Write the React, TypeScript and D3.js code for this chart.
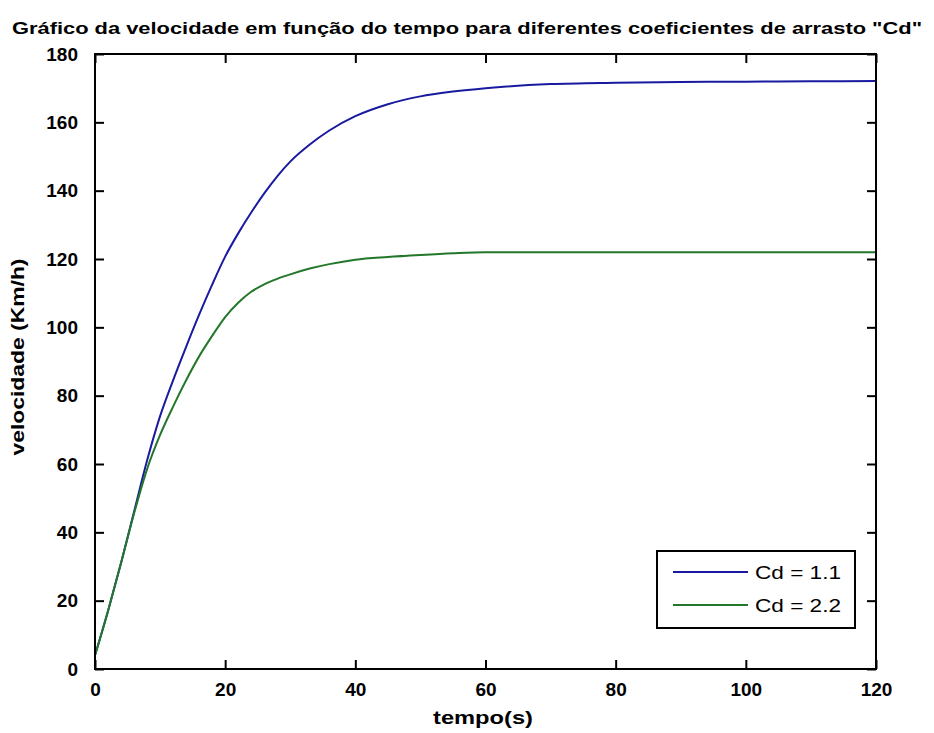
import React, { useEffect, useRef } from "react"
import * as d3 from "d3"

// tempo (s)
const tempo = [0, 2, 4, 6, 8, 10, 12, 14, 16, 18, 20, 22, 24, 26, 28, 30, 33, 36, 40, 45, 50, 55, 60, 70, 80, 90, 100, 110, 120]

// velocidade (km/h)
const velCd11 = [4, 17, 31, 46, 61, 74, 84.5, 94.3, 103.7, 112.5, 120.7, 127.5, 133.6, 139.2, 144.2, 148.5, 153.5, 157.6, 161.8, 165.3, 167.6, 169, 170, 171.2, 171.6, 171.8, 171.9, 172, 172.1]
const velCd22 = [4, 17, 31, 45.5, 58.5, 68.5, 76.8, 84.5, 91.5, 97.5, 103, 107.2, 110.4, 112.6, 114.2, 115.5, 117.2, 118.5, 119.8, 120.6, 121.2, 121.7, 122, 122, 122, 122, 122, 122, 122]

const seriesNames = ["Cd = 1.1", "Cd = 2.2"]
const seriesColors = ["#1a1aa0", "#23772a"]

const xTicks = [0, 20, 40, 60, 80, 100, 120]
const yTicks = [0, 20, 40, 60, 80, 100, 120, 140, 160, 180]

const titulo = "Gráfico da velocidade em função do tempo para diferentes coeficientes de arrasto \"Cd\""

export default function App() {
  const ref = useRef<SVGSVGElement>(null)

  useEffect(() => {
    const svg = d3.select(ref.current)
    svg.selectAll("*").remove()

    const margin = { top: 54, right: 58, bottom: 64, left: 95 }
    const W = 934, H = 733
    const width = W - margin.left - margin.right
    const height = H - margin.top - margin.bottom
    const font = "'Liberation Sans', Arial, sans-serif"

    svg.append("rect").attr("width", W).attr("height", H).attr("fill", "#fff")

    const x = d3.scaleLinear().domain([0, 120]).range([0, width])
    const y = d3.scaleLinear().domain([0, 180]).range([height, 0])

    const g = svg.append("g").attr("transform", `translate(${margin.left},${margin.top})`)

    // axes with inward ticks, on all four sides
    const tickLen = 9
    g.append("g").attr("transform", `translate(0,${height})`)
      .call(d3.axisBottom(x).tickValues(xTicks).tickSizeInner(-tickLen).tickSizeOuter(0).tickPadding(14))
    g.append("g")
      .call(d3.axisTop(x).tickValues(xTicks).tickSizeInner(-tickLen).tickSizeOuter(0).tickFormat(() => ""))
    g.append("g")
      .call(d3.axisLeft(y).tickValues(yTicks).tickSizeInner(-tickLen).tickSizeOuter(0).tickPadding(17))
    g.append("g").attr("transform", `translate(${width},0)`)
      .call(d3.axisRight(y).tickValues(yTicks).tickSizeInner(-tickLen).tickSizeOuter(0).tickFormat(() => ""))

    g.selectAll(".domain").remove()
    g.selectAll(".tick line").attr("stroke", "#000").attr("stroke-width", 2)
    g.selectAll(".tick text")
      .attr("fill", "#000")
      .style("font-family", font)
      .style("font-weight", "bold")
      .style("font-size", "19px")

    // lines
    const line = d3.line<number>()
      .x((d, i) => x(tempo[i]))
      .y(d => y(d))
      .curve(d3.curveMonotoneX)

    ;[velCd11, velCd22].forEach((vals, k) => {
      g.append("path")
        .datum(vals)
        .attr("d", line)
        .attr("fill", "none")
        .attr("stroke", seriesColors[k])
        .attr("stroke-width", 2)
    })

    // box
    g.append("rect")
      .attr("width", width).attr("height", height)
      .attr("fill", "none").attr("stroke", "#000").attr("stroke-width", 2)

    // legend
    const lg = svg.append("g").attr("transform", "translate(657,551)")
    lg.append("rect").attr("width", 198).attr("height", 77)
      .attr("fill", "#fff").attr("stroke", "#000").attr("stroke-width", 2)
    seriesNames.forEach((name, k) => {
      const yy = 21 + k * 33
      lg.append("line").attr("x1", 16).attr("x2", 91).attr("y1", yy).attr("y2", yy)
        .attr("stroke", seriesColors[k]).attr("stroke-width", 2)
      lg.append("text").attr("x", 98).attr("y", yy).attr("dy", "0.35em")
        .attr("textLength", 86).attr("lengthAdjust", "spacingAndGlyphs")
        .style("font-family", font).style("font-size", "19px")
        .text(name)
    })

    // title and labels
    svg.append("text").attr("x", 12).attr("y", 34)
      .attr("textLength", 910).attr("lengthAdjust", "spacingAndGlyphs")
      .style("font-family", font).style("font-weight", "bold").style("font-size", "17px")
      .text(titulo)

    svg.append("text").attr("x", 483).attr("y", 724).attr("text-anchor", "middle")
      .attr("textLength", 100).attr("lengthAdjust", "spacingAndGlyphs")
      .style("font-family", font).style("font-weight", "bold").style("font-size", "19px")
      .text("tempo(s)")

    svg.append("text")
      .attr("transform", "translate(24,357) rotate(-90)")
      .attr("text-anchor", "middle")
      .attr("textLength", 197).attr("lengthAdjust", "spacingAndGlyphs")
      .style("font-family", font).style("font-weight", "bold").style("font-size", "19px")
      .text("velocidade (Km/h)")
  }, [])

  return (
    <div style={{ position: "absolute", left: 0, top: 0 }}>
      <svg ref={ref} width={934} height={733} style={{ display: "block" }} />
    </div>
  )
}
